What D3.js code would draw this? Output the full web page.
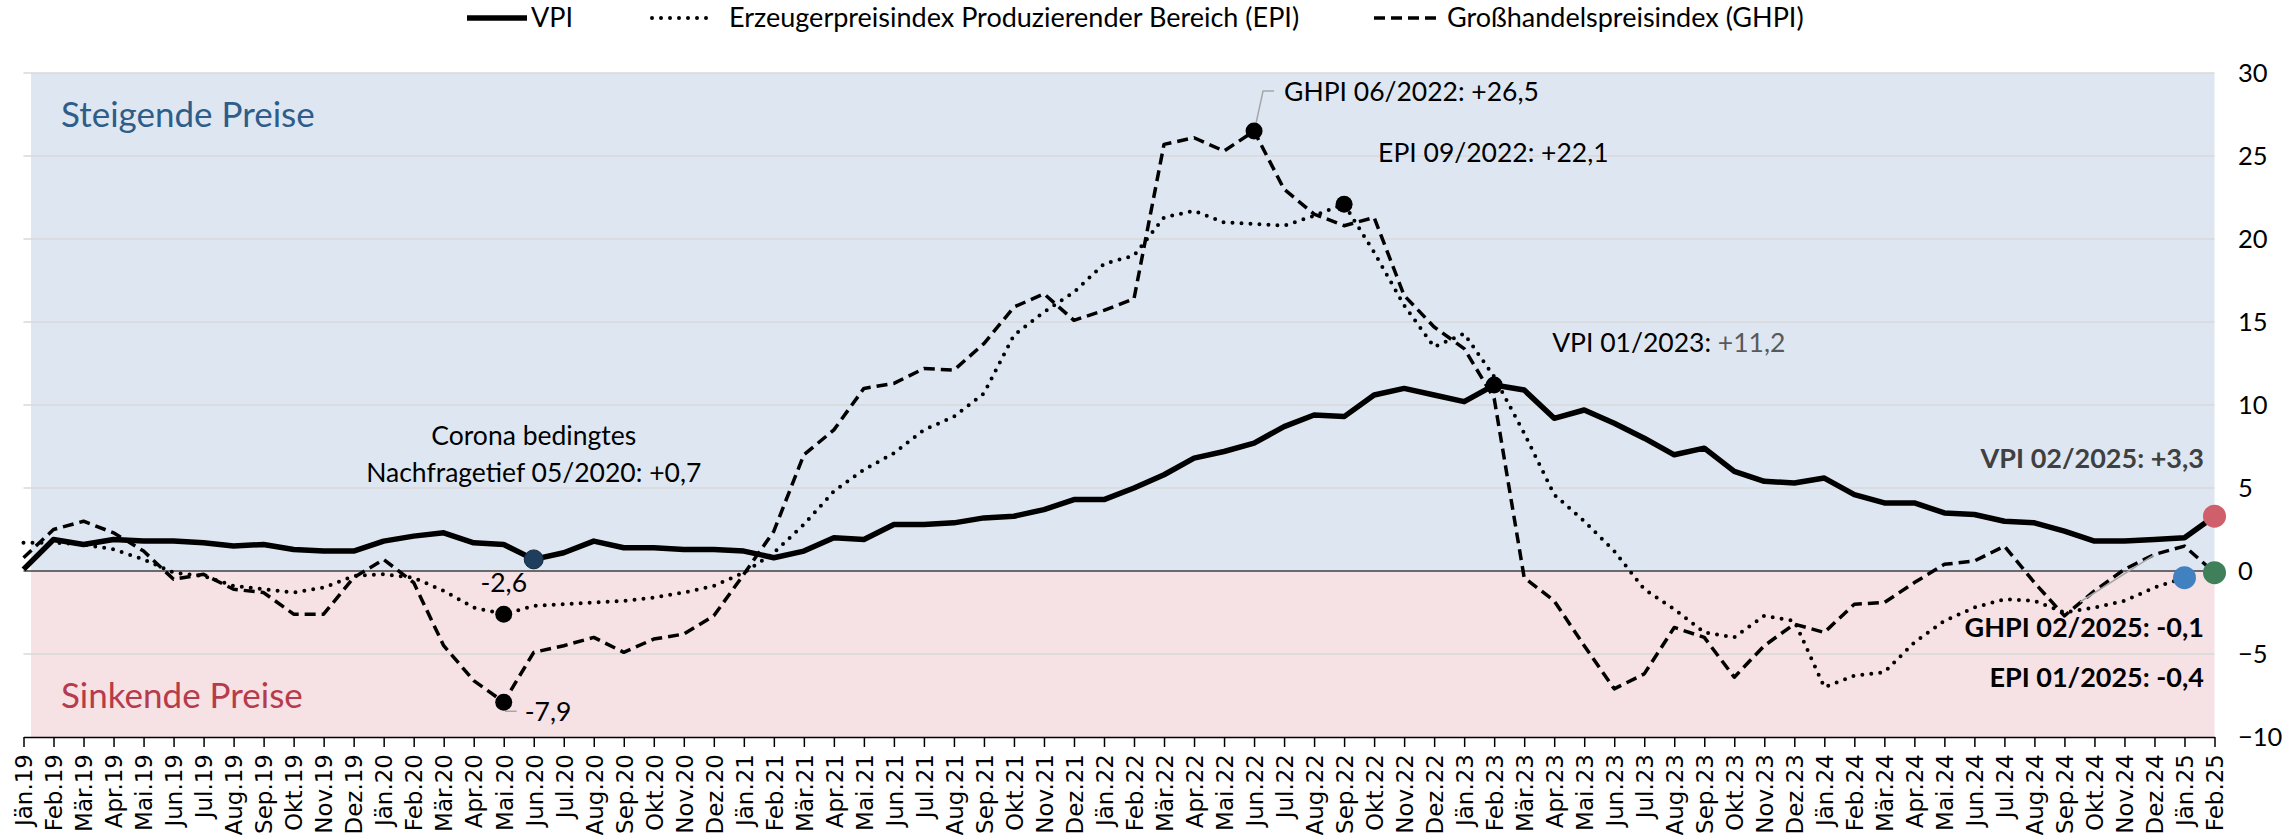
<!DOCTYPE html>
<html>
<head>
<meta charset="utf-8">
<script src="https://cdn.jsdelivr.net/npm/d3@7"></script>
<style>
  body { margin: 0; background: #fff; }
  svg { display: block; }
  text { font-family: Lato, "Open Sans", sans-serif; }
</style>
</head>
<body>
<svg id="chart"></svg>
<script>
// --- data ---
const monthNames = ['Jän', 'Feb', 'Mär', 'Apr', 'Mai', 'Jun', 'Jul', 'Aug', 'Sep', 'Okt', 'Nov', 'Dez'];
const years = ['19', '20', '21', '22', '23', '24', '25'];
const months = years.flatMap(y => monthNames.map(m => m + '.' + y)).slice(0, 74);

const vpi = [0.1, 1.9, 1.6, 1.9, 1.8, 1.8, 1.7, 1.5, 1.6, 1.3, 1.2, 1.2,
             1.8, 2.1, 2.3, 1.7, 1.6, 0.7, 1.1, 1.8, 1.4, 1.4, 1.3, 1.3,
             1.2, 0.8, 1.2, 2.0, 1.9, 2.8, 2.8, 2.9, 3.2, 3.3, 3.7, 4.3,
             4.3, 5.0, 5.8, 6.8, 7.2, 7.7, 8.7, 9.4, 9.3, 10.6, 11.0, 10.6,
             10.2, 11.2, 10.9, 9.2, 9.7, 8.9, 8.0, 7.0, 7.4, 6.0, 5.4, 5.3,
             5.6, 4.6, 4.1, 4.1, 3.5, 3.4, 3.0, 2.9, 2.4, 1.8, 1.8, 1.9,
             2.0, 3.3];

const epi = [1.7, 1.7, 1.6, 1.3, 0.7, -0.1, -0.3, -0.9, -1.1, -1.3, -1.0, -0.3,
             -0.2, -0.4, -1.2, -2.2, -2.6, -2.1, -2.0, -1.9, -1.8, -1.6, -1.3, -0.9,
             -0.1, 1.1, 2.8, 4.8, 6.1, 7.1, 8.5, 9.3, 10.7, 14.2, 15.6, 16.8,
             18.5, 19.0, 21.3, 21.7, 21.0, 20.9, 20.8, 21.4, 22.1, 19.2, 16.0, 13.5,
             14.3, 11.7, 8.3, 4.6, 3.0, 1.2, -1.1, -2.3, -3.7, -4.0, -2.7, -3.0,
             -7.0, -6.3, -6.1, -4.3, -3.0, -2.2, -1.7, -1.8, -2.5, -2.2, -1.8, -1.0,
             -0.4];

const ghpi = [0.8, 2.5, 3.0, 2.3, 1.2, -0.5, -0.2, -1.1, -1.3, -2.6, -2.6, -0.4,
              0.7, -0.7, -4.5, -6.6, -7.9, -4.9, -4.5, -4.0, -4.9, -4.1, -3.8, -2.7,
              -0.2, 2.4, 7.0, 8.5, 11.0, 11.3, 12.2, 12.1, 13.7, 15.9, 16.7, 15.1,
              15.7, 16.4, 25.7, 26.1, 25.3, 26.5, 23.0, 21.5, 20.8, 21.3, 16.6, 14.7,
              13.4, 10.4, -0.4, -1.8, -4.5, -7.1, -6.2, -3.4, -4.0, -6.4, -4.5, -3.2,
              -3.7, -2.0, -1.9, -0.7, 0.4, 0.6, 1.5, -0.7, -2.7, -1.2, 0.1, 1.0,
              1.5, -0.1];

const yTicks = [30, 25, 20, 15, 10, 5, 0, -5, -10];
const seriesNames = ['VPI', 'Erzeugerpreisindex Produzierender Bereich (EPI)', 'Großhandelspreisindex (GHPI)'];

// --- layout ---
const width = 2282, height = 839;
const svg = d3.select('#chart').attr('width', width).attr('height', height);

const x = d3.scalePoint().domain(months).range([23.5, 2214.5]);
const y = d3.scaleLinear().domain([-10, 30]).range([737, 73]);

const styles = [
  { data: vpi,  width: 5.5, dash: null,   cap: 'butt' },
  { data: epi,  width: 4,   dash: '0,9',  cap: 'round' },
  { data: ghpi, width: 3.5, dash: '11,6', cap: 'butt' }
];

// background bands
svg.append('rect')
  .attr('x', 31).attr('width', x.range()[1] - 31)
  .attr('y', y(30)).attr('height', y(0) - y(30))
  .attr('fill', '#dee7f1');
svg.append('rect')
  .attr('x', 31).attr('width', x.range()[1] - 31)
  .attr('y', y(0)).attr('height', y(-10) - y(0))
  .attr('fill', '#f6e1e4');

// gridlines
svg.append('g')
  .selectAll('line')
  .data(yTicks.filter(d => d > -10 && d !== 0))
  .join('line')
  .attr('x1', x.range()[0]).attr('x2', x.range()[1])
  .attr('y1', d => y(d)).attr('y2', d => y(d))
  .attr('stroke', '#d9d9d9').attr('stroke-width', 1.5);

svg.append('line')
  .attr('x1', x.range()[0]).attr('x2', x.range()[1])
  .attr('y1', y(0)).attr('y2', y(0))
  .attr('stroke', '#404040').attr('stroke-width', 1.5);

// region labels
svg.append('text')
  .attr('x', 61).attr('y', 127)
  .attr('fill', '#2f5d8a').style('font-size', '35px')
  .text('Steigende Preise');
svg.append('text')
  .attr('x', 61).attr('y', 708)
  .attr('fill', '#b63b4b').style('font-size', '35px')
  .text('Sinkende Preise');

// x axis
const xAxis = svg.append('g')
  .attr('transform', `translate(0, ${y(-10)})`)
  .call(d3.axisBottom(x).tickSize(10).tickSizeOuter(0));
xAxis.select('.domain').attr('stroke', '#000').attr('stroke-width', 1.5);
xAxis.selectAll('.tick line').attr('stroke', '#000').attr('stroke-width', 1.5);
xAxis.selectAll('.tick text')
  .attr('transform', 'rotate(-90)')
  .attr('x', -17).attr('y', 0).attr('dy', '0.36em')
  .style('text-anchor', 'end')
  .style('font-family', '"DejaVu Sans", Verdana, sans-serif')
  .style('font-size', '23px')
  .attr('fill', '#000');

// y axis (right)
const yAxis = svg.append('g')
  .attr('transform', `translate(2238, 0)`)
  .call(d3.axisRight(y).tickValues(yTicks).tickSize(0).tickPadding(0));
yAxis.select('.domain').remove();
yAxis.selectAll('text')
  .style('font-size', '25.5px')
  .style('font-family', 'Lato, sans-serif')
  .attr('fill', '#000');

// lines
const line = d3.line()
  .x((d, i) => x(months[i]))
  .y(d => y(d));

styles.forEach(s => {
  svg.append('path')
    .datum(s.data)
    .attr('d', line)
    .attr('fill', 'none')
    .attr('stroke', '#000')
    .attr('stroke-width', s.width)
    .attr('stroke-linejoin', 'round')
    .attr('stroke-linecap', s.cap)
    .attr('stroke-dasharray', s.dash);
});

// legend
const legendItems = [
  { x1: 467, x2: 527, tx: 531 },
  { x1: 652, x2: 712, tx: 729 },
  { x1: 1374, x2: 1441, tx: 1447 }
];
legendItems.forEach((l, i) => {
  svg.append('line')
    .attr('x1', l.x1).attr('x2', l.x2).attr('y1', 18).attr('y2', 18)
    .attr('stroke', '#000')
    .attr('stroke-width', styles[i].width)
    .attr('stroke-linecap', styles[i].cap)
    .attr('stroke-dasharray', styles[i].dash);
  svg.append('text')
    .attr('x', l.tx).attr('y', 27)
    .style('font-size', '27px')
    .text(seriesNames[i]);
});

// highlighted points
const px = (m) => x(m);
const marker = (m, v, r, fill) => svg.append('circle')
  .attr('cx', px(m)).attr('cy', y(v)).attr('r', r).attr('fill', fill);

// leader lines
const leader = (pts) => svg.append('path')
  .attr('d', d3.line()(pts))
  .attr('fill', 'none').attr('stroke', '#a6a6a6').attr('stroke-width', 1.5);

const iGPeak = months.indexOf('Jun.22');
const gx = px('Jun.22'), gy = y(ghpi[iGPeak]);
leader([[gx + 2, gy - 8], [gx + 9, gy - 40], [gx + 20, gy - 40]]);
const cx = px('Mai.20'), cy = y(ghpi[months.indexOf('Mai.20')]);
leader([[cx + 1, cy + 2], [cx + 2, cy + 9], [cx + 13, cy + 9]]);
leader([[2080, 602], [x('Dez.24') - 1, y(ghpi[months.indexOf('Dez.24')]) + 1]]);

marker('Jun.20', vpi[months.indexOf('Jun.20')], 9.5, '#1f3d5c')
  .attr('stroke', '#14283d').attr('stroke-width', 1);
marker('Mai.20', epi[months.indexOf('Mai.20')], 8.5, '#000');
marker('Mai.20', ghpi[months.indexOf('Mai.20')], 8.5, '#000');
marker('Jun.22', ghpi[iGPeak], 8.5, '#000');
marker('Sep.22', epi[months.indexOf('Sep.22')], 8.5, '#000');
marker('Feb.23', vpi[months.indexOf('Feb.23')], 8.5, '#000');
marker('Feb.25', vpi[73], 11.5, '#cf5f6a');
marker('Jän.25', epi[72], 11.5, '#4281bf');
marker('Feb.25', ghpi[73], 11.5, '#3f7f5a');

// annotations
const note = (tx, ty, str, anchor) => svg.append('text')
  .attr('x', tx).attr('y', ty)
  .attr('text-anchor', anchor || 'start')
  .style('font-size', '26.5px')
  .text(str);

const vx = px('Jun.20'), vy = y(vpi[months.indexOf('Jun.20')]);
note(vx, vy - 114, 'Corona bedingtes', 'middle');
note(vx, vy - 77, 'Nachfragetief 05/2020: +0,7', 'middle');

const ex = px('Mai.20'), ey = y(epi[months.indexOf('Mai.20')]);
note(ex, ey - 22, '-2,6', 'middle');
note(cx + 21, cy + 19, '-7,9');

note(gx + 30, gy - 30, 'GHPI 06/2022: +26,5');

const sx = px('Sep.22'), sy = y(epi[months.indexOf('Sep.22')]);
note(sx + 34, sy - 42, 'EPI 09/2022: +22,1');

const fx = px('Feb.23'), fy = y(vpi[months.indexOf('Feb.23')]);
const vt = note(fx + 58, fy - 33, 'VPI 01/2023: ');
vt.append('tspan').attr('fill', '#595959').text('+11,2');

const endNote = (ty, str, fill) => svg.append('text')
  .attr('x', 2204).attr('y', ty)
  .attr('text-anchor', 'end')
  .attr('fill', fill)
  .style('font-size', '27px').style('font-weight', 'bold')
  .text(str);
endNote(468, 'VPI 02/2025: +3,3', '#404040');
endNote(637, 'GHPI 02/2025: -0,1', '#000');
endNote(687, 'EPI 01/2025: -0,4', '#000');
</script>
</body>
</html>
